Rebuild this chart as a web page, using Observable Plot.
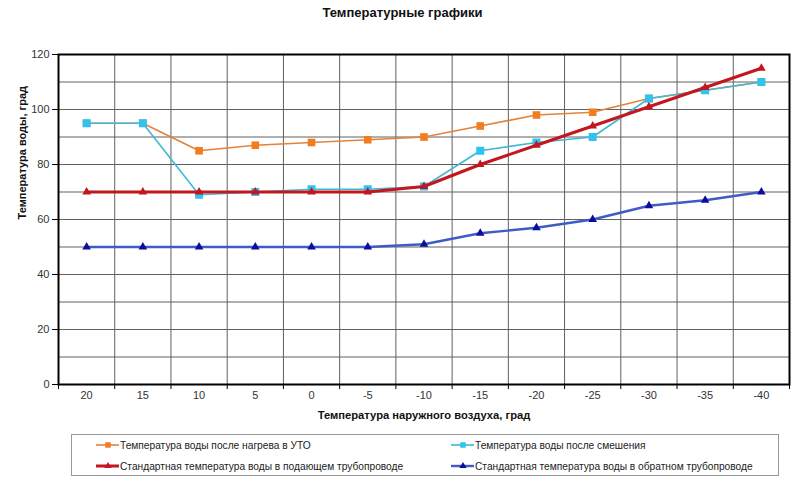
<!DOCTYPE html>
<html>
<head>
<meta charset="utf-8">
<script src="https://cdn.jsdelivr.net/npm/d3@7"></script>
<script src="https://cdn.jsdelivr.net/npm/@observablehq/plot@0.6"></script>
<style>
  html, body { margin: 0; padding: 0; background: #fff; }
  #wrap { position: relative; width: 805px; height: 485px; font-family: "Liberation Sans", Arial, sans-serif; }
  #title { position: absolute; left: 0; top: 5px; width: 805px; text-align: center; font-weight: bold; font-size: 13px; color: #111; }
  #chart { position: absolute; left: 0; top: 30px; }
  #legend { position: absolute; left: 71px; top: 434px; width: 708px; height: 42px; border: 1px solid #999; box-sizing: border-box; }
  .entry { position: absolute; height: 14px; display: flex; align-items: center; font-size: 10.2px; color: #222; white-space: nowrap; }
</style>
</head>
<body>
<div id="wrap">
  <div id="title">Температурные графики</div>
  <div id="chart"></div>
  <div id="legend"></div>
</div>
<script>
// Outdoor air temperature categories (x axis)
const categories = ["20", "15", "10", "5", "0", "-5", "-10", "-15", "-20", "-25", "-30", "-35", "-40"];
// Series values (water temperature, °C)
const afterHeating = [95, 95, 85, 87, 88, 89, 90, 94, 98, 99, 104, 107, 110];
const afterMixing  = [95, 95, 69, 70, 71, 71, 72, 85, 88, 90, 104, 107, 110];
const supplyStd    = [70, 70, 70, 70, 70, 70, 72, 80, 87, 94, 101, 108, 115];
const returnStd    = [50, 50, 50, 50, 50, 50, 51, 55, 57, 60, 65, 67, 70];
const yTicks = [0, 20, 40, 60, 80, 100, 120];
const yGrid = [10, 20, 30, 40, 50, 60, 70, 80, 90, 100, 110];
const seriesNames = [
  "Температура воды после нагрева в УТО",
  "Температура воды после смешения",
  "Стандартная температура воды в подающем трубопроводе",
  "Стандартная температура воды в обратном трубопроводе"
];
const titleText = "Температурные графики";
const xLabel = "Температура наружного воздуха, град";
const yLabel = "Температура воды, град";

const series = [
  {name: seriesNames[0], values: afterHeating, line: "#e5823a", fill: "#f07d22", symbol: "square", r: 4.3, width: 1.6},
  {name: seriesNames[1], values: afterMixing,  line: "#3fbad3", fill: "#2fc3ef", symbol: "square", r: 4.5, width: 1.6},
  {name: seriesNames[2], values: supplyStd,    line: "#c4161f", fill: "#c4161f", symbol: "triangle", r: 3.2, width: 3},
  {name: seriesNames[3], values: returnStd,    line: "#3f5cc6", fill: "#0d0d9c", symbol: "triangle", r: 3.2, width: 2.4}
];

const idx = categories.map((c, i) => i);
const boundaries = [...idx.map(i => i - 0.5), categories.length - 0.5];

const marks = [
  Plot.ruleY(yGrid, {y: d => d, stroke: "#606060", strokeWidth: 1}),
  Plot.ruleX(boundaries, {x: d => d, stroke: "#606060", strokeWidth: 1}),
  Plot.frame({stroke: "#000", strokeWidth: 2}),
  Plot.axisY({ticks: yTicks, tickSize: 6, tickPadding: 3, label: null, fontSize: 11, color: "#333", stroke: "#000"}),
  Plot.axisX({ticks: boundaries, tickSize: 5, tickFormat: () => "", label: null, stroke: "#000"}),
  Plot.axisX({ticks: idx, tickSize: 0, tickPadding: 7, tickFormat: i => categories[i], label: null, fontSize: 11, color: "#333"}),
  Plot.text([yLabel], {frameAnchor: "left", rotate: -90, dx: -36, fontWeight: "bold", fontSize: 11, fill: "#111"}),
  Plot.text([xLabel], {frameAnchor: "bottom", dy: 34, fontWeight: "bold", fontSize: 11.2, fill: "#111"})
];

for (const s of series) {
  const rows = s.values.map((v, i) => ({i, v}));
  marks.push(Plot.line(rows, {x: "i", y: "v", stroke: s.line, strokeWidth: s.width}));
  marks.push(Plot.dot(rows, {x: "i", y: "v", symbol: s.symbol, r: s.r, fill: s.fill, stroke: "none"}));
}

const chart = Plot.plot({
  width: 805,
  height: 395,
  marginTop: 24,
  marginBottom: 41,
  marginLeft: 58,
  marginRight: 16,
  x: {domain: [-0.5, categories.length - 0.5], axis: null},
  y: {domain: [0, 120], axis: null},
  style: {fontFamily: "'Liberation Sans', Arial, sans-serif", fontSize: "11px", background: "#fff", color: "#333"},
  marks
});
document.getElementById("chart").appendChild(chart);

// Legend
const legend = document.getElementById("legend");
const positions = [[24, 3], [379, 3], [24, 24], [379, 24]];
series.forEach((s, k) => {
  const e = document.createElement("div");
  e.className = "entry";
  e.style.left = positions[k][0] + "px";
  e.style.top = positions[k][1] + "px";
  const svg = d3.create("svg").attr("width", 24).attr("height", 10);
  svg.append("line").attr("x1", 0).attr("x2", 23).attr("y1", 5).attr("y2", 5)
    .attr("stroke", s.line).attr("stroke-width", s.width);
  const sym = s.symbol === "square" ? d3.symbolSquare : d3.symbolTriangle;
  svg.append("path").attr("transform", "translate(12,5)")
    .attr("d", d3.symbol(sym, s.symbol === "square" ? 30 : 22)()).attr("fill", s.fill);
  e.appendChild(svg.node());
  const t = document.createElement("span");
  t.textContent = s.name;
  e.appendChild(t);
  legend.appendChild(e);
});
</script>
</body>
</html>
